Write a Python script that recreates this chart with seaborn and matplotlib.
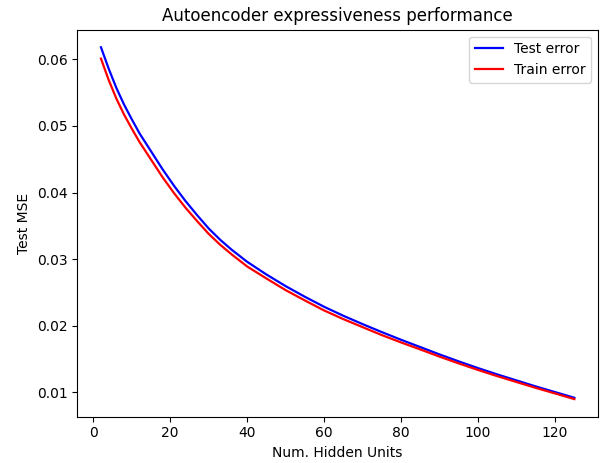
import matplotlib
matplotlib.use("Agg")
import matplotlib.pyplot as plt
import seaborn as sns
import pandas as pd

hidden_units = [2, 4, 6, 8, 10, 12, 15, 18, 21, 24, 27, 30, 33, 36, 40, 45, 50,
                55, 60, 65, 70, 75, 80, 85, 90, 95, 100, 105, 110, 115, 120, 125]
test_error = [0.0618, 0.0586, 0.0557, 0.0532, 0.0510, 0.0489, 0.0462, 0.0435,
              0.0410, 0.0387, 0.0366, 0.0346, 0.0329, 0.0314, 0.0296, 0.0277,
              0.02595, 0.02435, 0.02285, 0.0215, 0.02025, 0.01905, 0.0179, 0.0168,
              0.0157, 0.01465, 0.01365, 0.0127, 0.0118, 0.0109, 0.01005, 0.0092]
train_error = [0.0601, 0.0569, 0.0541, 0.0517, 0.0496, 0.0476, 0.04495, 0.0423,
               0.0399, 0.0377, 0.0357, 0.0338, 0.03215, 0.0307, 0.0289, 0.0271,
               0.02535, 0.0238, 0.0223, 0.0210, 0.0198, 0.0186, 0.0175, 0.01645,
               0.01537, 0.01435, 0.01337, 0.01244, 0.01156, 0.01068, 0.00985, 0.0090]
series_names = ["Test error", "Train error"]
series_colors = ["blue", "red"]

df = pd.concat([
    pd.DataFrame({"units": hidden_units, "mse": test_error, "series": series_names[0]}),
    pd.DataFrame({"units": hidden_units, "mse": train_error, "series": series_names[1]}),
])

fig = plt.figure(figsize=(6.0, 4.63), dpi=100)
ax = fig.add_axes([77.3 / 600, 1 - 416.7 / 463, (598 - 77.3) / 600, (416.7 - 29.7) / 463])
sns.lineplot(data=df, x="units", y="mse", hue="series",
             palette=dict(zip(series_names, series_colors)),
             linewidth=1.6, ax=ax, legend=False)

handles = [plt.Line2D([], [], color=c, linewidth=1.6) for c in series_colors]
ax.legend(handles, series_names, loc="upper right", fontsize=10)
ax.set_title("Autoencoder expressiveness performance", fontsize=12)
ax.set_xlabel("Num. Hidden Units", fontsize=10)
ax.set_ylabel("Test MSE", fontsize=10)
ax.set_xticks([0, 20, 40, 60, 80, 100, 120])
ax.set_yticks([0.01, 0.02, 0.03, 0.04, 0.05, 0.06])
ax.tick_params(labelsize=10)

fig.savefig("out.png", dpi=100)
